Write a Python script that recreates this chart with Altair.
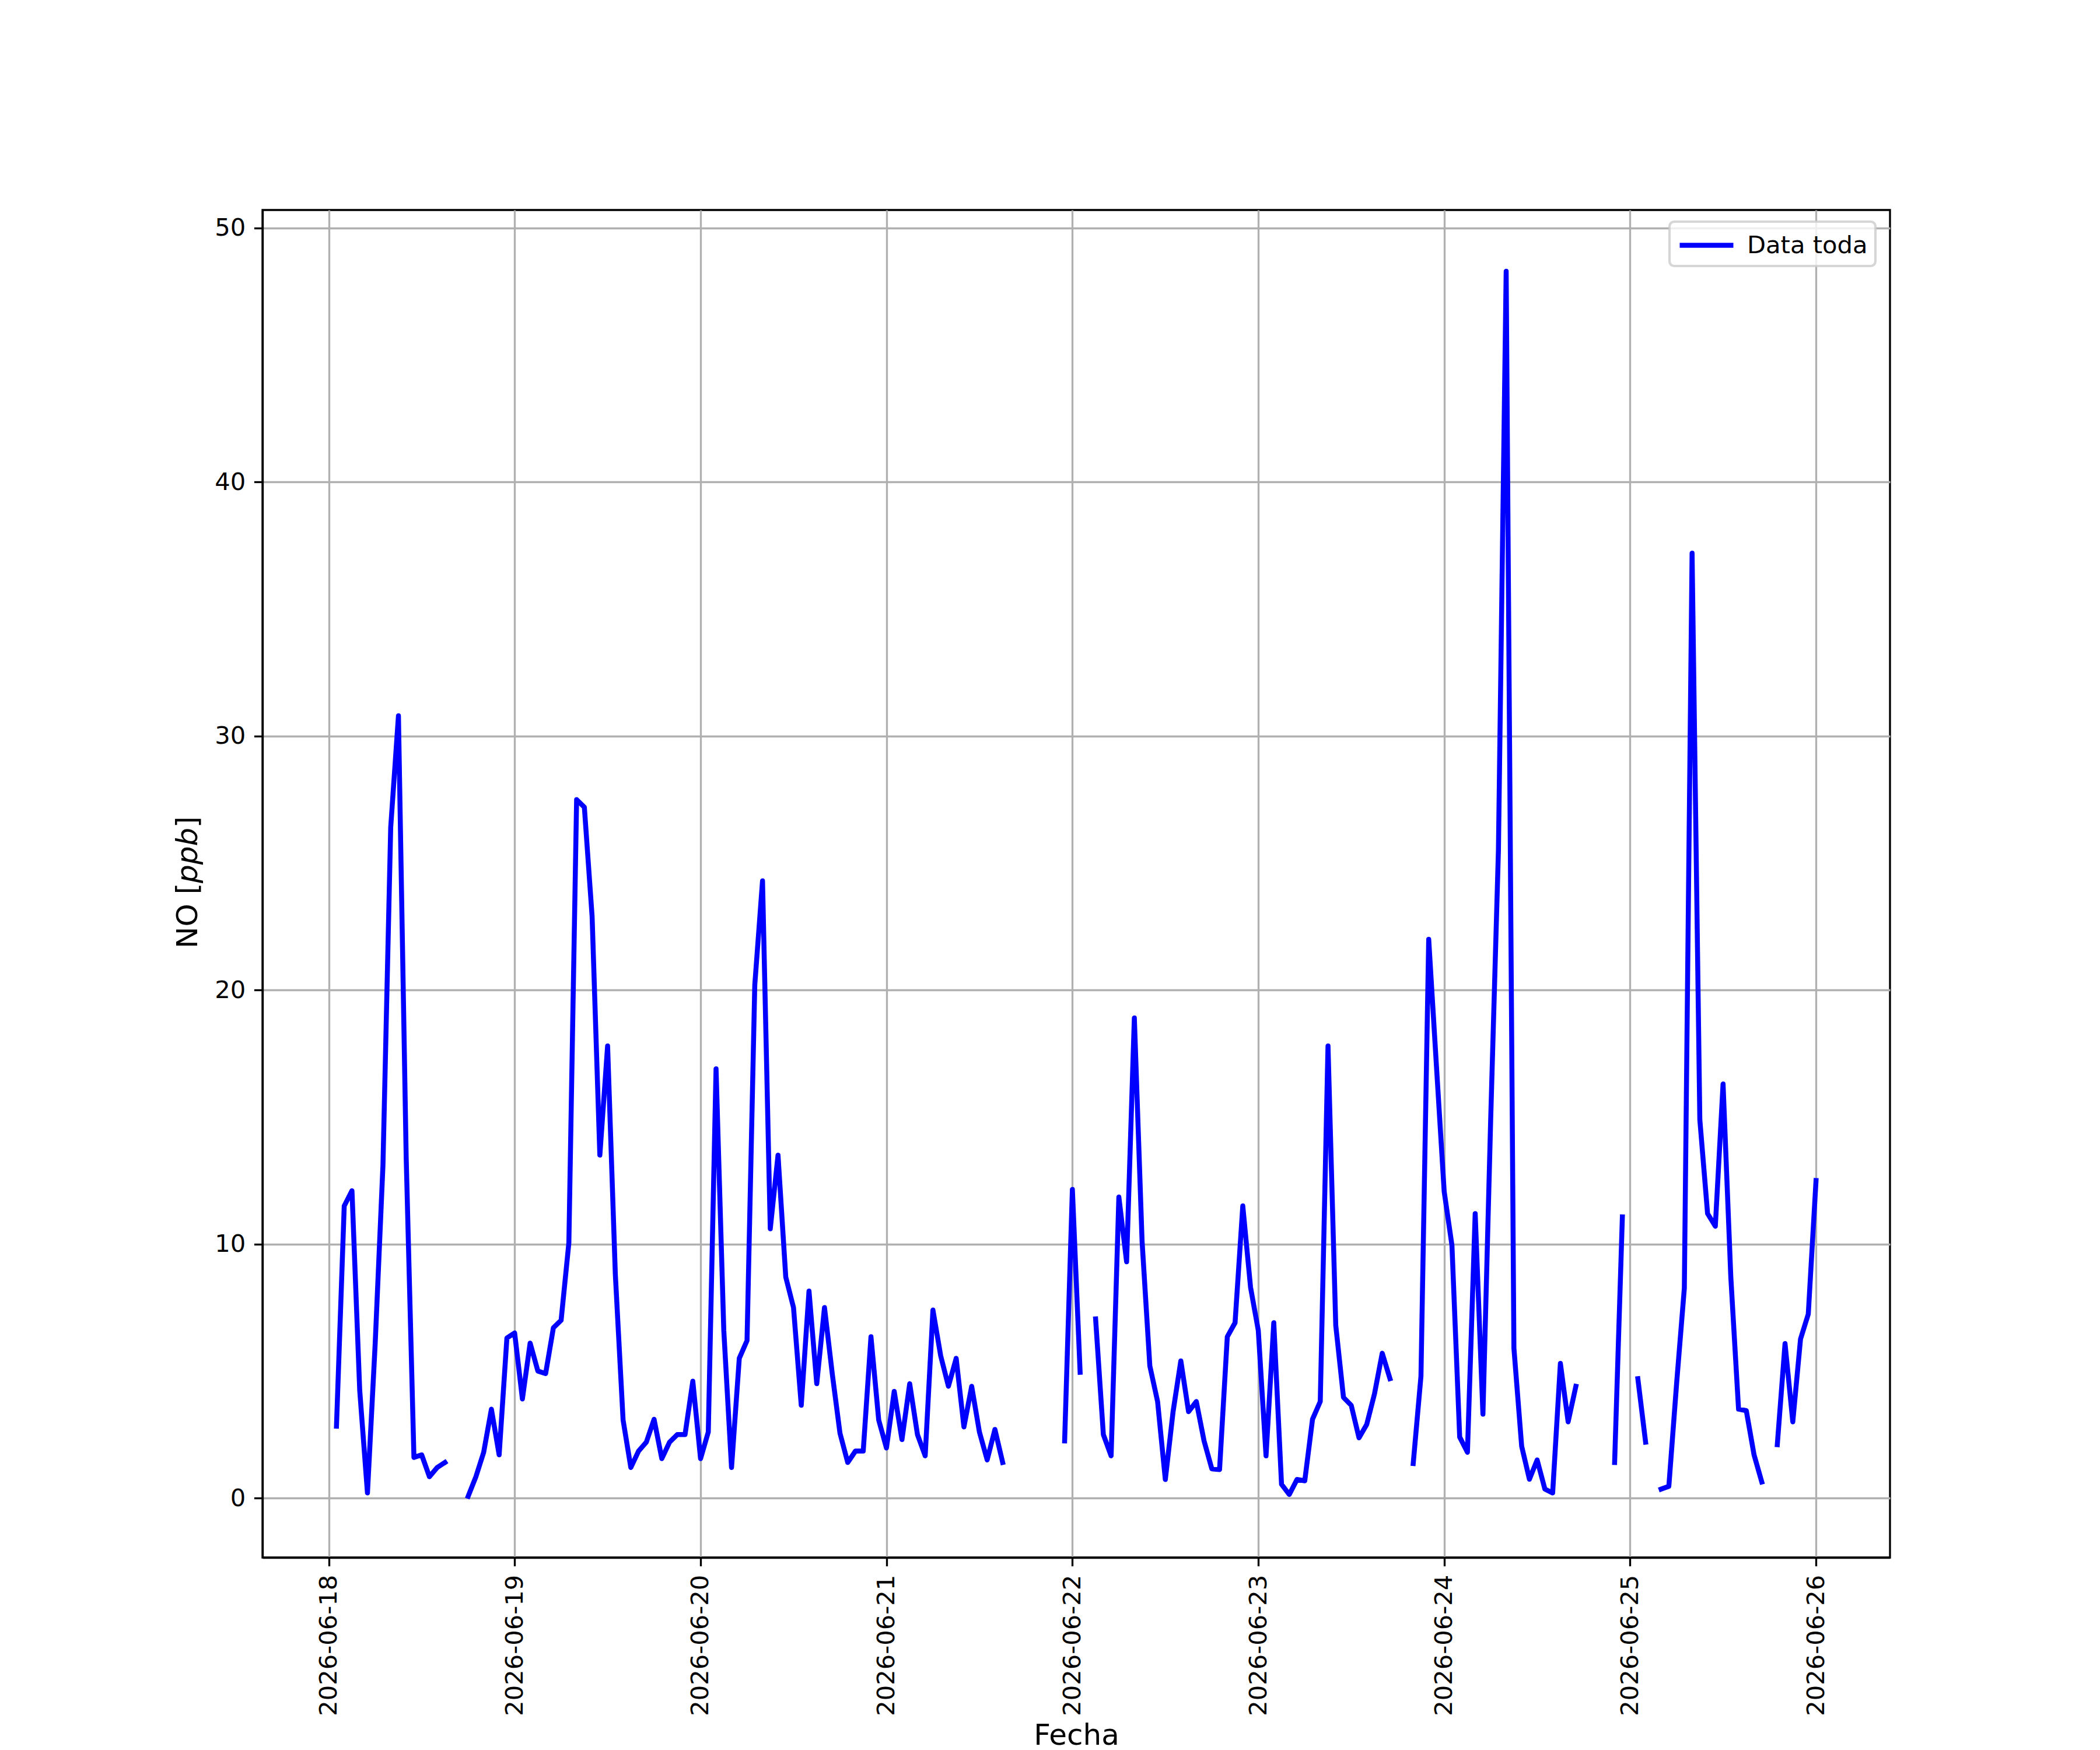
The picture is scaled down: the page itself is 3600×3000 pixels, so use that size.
import altair as alt
import pandas as pd

# ---------------- data (hourly NO, ppb; None = missing) ----------------
DAYS = ["2026-06-18", "2026-06-19", "2026-06-20", "2026-06-21",
        "2026-06-22", "2026-06-23", "2026-06-24", "2026-06-25", "2026-06-26"]

NO_0618 = [None, 2.83, 11.5, 12.1, 4.24, 0.2, 6.1, 13.1, 26.4, 30.8, 13.4, 1.6,
           1.7, 0.84, 1.2, 1.4, None, None, 0.07, 0.84, 1.8, 3.5, 1.7, 6.3]
NO_0619 = [6.5, 3.9, 6.1, 5.0, 4.9, 6.7, 7.0, 10.05, 27.5, 27.2, 22.9, 13.5,
           17.8, 8.8, 3.07, 1.2, 1.85, 2.2, 3.1, 1.55, 2.2, 2.5, 2.5, 4.6]
NO_0620 = [1.55, 2.6, 16.9, 6.6, 1.2, 5.5, 6.2, 20.2, 24.3, 10.6, 13.5, 8.7,
           7.5, 3.65, 8.15, 4.5, 7.5, 4.9, 2.55, 1.4, 1.85, 1.85, 6.35, 3.07]
NO_0621 = [1.97, 4.2, 2.3, 4.5, 2.5, 1.66, 7.4, 5.6, 4.4, 5.5, 2.8, 4.4,
           2.6, 1.5, 2.7, 1.4, None, None, None, None, None, None, None, 2.25]
NO_0622 = [12.15, 4.95, None, 7.05, 2.5, 1.66, 11.85, 9.3, 18.9, 10.1, 5.2, 3.8,
           0.73, 3.4, 5.4, 3.4, 3.8, 2.25, 1.15, 1.12, 6.35, 6.9, 11.5, 8.3]
NO_0623 = [6.6, 1.66, 6.9, 0.54, 0.14, 0.73, 0.68, 3.1, 3.8, 17.8, 6.8, 3.96,
           3.65, 2.37, 2.9, 4.1, 5.7, 4.7, None, None, 1.36, 4.8, 22.0, 17.0]
NO_0624 = [12.06, 9.95, 2.4, 1.8, 11.2, 3.3, 14.9, 25.5, 48.3, 5.9, 2.04, 0.74,
           1.5, 0.35, 0.2, 5.3, 3.0, 4.4, None, None, None, None, 1.4, 11.07]
NO_0625 = [None, 4.7, 2.2, None, 0.35, 0.46, 4.5, 8.26, 37.2, 14.9, 11.2, 10.7,
           16.3, 8.7, 3.5, 3.44, 1.7, 0.63, None, 2.1, 6.08, 3.0, 6.26, 7.24]
NO_0626 = [12.5]

DAILY = [NO_0618, NO_0619, NO_0620, NO_0621, NO_0622,
         NO_0623, NO_0624, NO_0625, NO_0626]

SERIE = "Data toda"
Y_TICKS = [0, 10, 20, 30, 40, 50]
X_TICK_DAYS = DAYS

# ---------------- build table ----------------
rows = []
for day, vals in zip(DAYS, DAILY):
    base_t = pd.Timestamp(day)
    for h, v in enumerate(vals):
        t = base_t + pd.Timedelta(hours=h)
        rows.append({"t": int(t.value // 10**6), "no": v, "serie": SERIE})
df = pd.DataFrame(rows)

valid = df.dropna(subset=["no"])
tmin, tmax = valid["t"].min(), valid["t"].max()
tpad = 0.05 * (tmax - tmin)
ymin, ymax = valid["no"].min(), valid["no"].max()
ypad = 0.05 * (ymax - ymin)
x_ticks = [int(pd.Timestamp(d).value // 10**6) for d in X_TICK_DAYS]

FONT = "DejaVu Sans"
FS_TICK = 41.67
FS_LABEL = 50
LW = 3.33
TICK = 14.6
LINE_W = 8.5

W, H = 2790, 2310

line = alt.Chart(df).mark_line(
    strokeWidth=LINE_W, strokeJoin="round", strokeCap="square",
    invalid="break-paths-show-domains"
).encode(
    x=alt.X("t:T",
            scale=alt.Scale(type="utc", domain=[tmin - tpad, tmax + tpad], nice=False),
            axis=alt.Axis(values=x_ticks,
                          labelExpr="utcFormat(datum.value, '%Y-%m-%d')",
                          labelAngle=270, labelAlign="right", labelBaseline="middle",
                          labelFont=FONT, labelFontSize=FS_TICK, labelColor="black",
                          labelPadding=TICK, labelOverlap=False, labelFlush=False,
                          labelLimit=0,
                          tickSize=TICK, tickWidth=LW, tickColor="black",
                          domainColor="black", domainWidth=LW,
                          grid=True, gridColor="#b0b0b0", gridWidth=LW,
                          title="Fecha", titleFont=FONT, titleFontSize=FS_LABEL,
                          titleFontWeight="normal", titleColor="black",
                          titleY=320, titleBaseline="alphabetic")),
    y=alt.Y("no:Q",
            scale=alt.Scale(domain=[ymin - ypad, ymax + ypad], nice=False, zero=False),
            axis=alt.Axis(values=Y_TICKS, format="d",
                          labelFont=FONT, labelFontSize=FS_TICK, labelColor="black",
                          labelPadding=TICK, labelOverlap=False, labelFlush=False,
                          labelLimit=0,
                          tickSize=TICK, tickWidth=LW, tickColor="black",
                          domainColor="black", domainWidth=LW,
                          grid=True, gridColor="#b0b0b0", gridWidth=LW),
            title=None),
    color=alt.Color("serie:N",
                    scale=alt.Scale(domain=[SERIE], range=["#0000ff"]),
                    legend=alt.Legend(title=None, orient="none",
                                      legendX=2412, legendY=20,
                                      symbolType="M-2,0H2", symbolSize=2116,
                                      symbolStrokeWidth=LINE_W, symbolOffset=23,
                                      symbolFillColor="transparent",
                                      labelFont=FONT, labelFontSize=FS_TICK,
                                      labelColor="black", labelOffset=42,
                                      labelLimit=0,
                                      padding=13, cornerRadius=8,
                                      fillColor="rgba(255,255,255,0.8)",
                                      strokeColor="rgba(204,204,204,0.8)"))
)

one = pd.DataFrame({"k": [0]})

def ylab(txt, yy, style="normal"):
    return alt.Chart(one).mark_text(
        text=txt, angle=270, align="left", baseline="alphabetic",
        font=FONT, fontSize=FS_LABEL, fontStyle=style, color="black"
    ).encode(x=alt.value(-112), y=alt.value(yy))

chart = alt.layer(
    line,
    ylab("NO [", 1266),
    ylab("ppb", 1154, "italic"),
    ylab("]", 1059),
).properties(
    width=W, height=H,
    autosize=alt.AutoSizeParams(type="none"),
    padding={"left": 442, "top": 352, "right": 352, "bottom": 322},
    background="white",
).configure(
    font=FONT
).configure_view(
    stroke="black", strokeWidth=LW
).configure_legend(
    strokeWidth=4.2
)

chart.save("out.html", embed_options={"renderer": "svg", "actions": False})
